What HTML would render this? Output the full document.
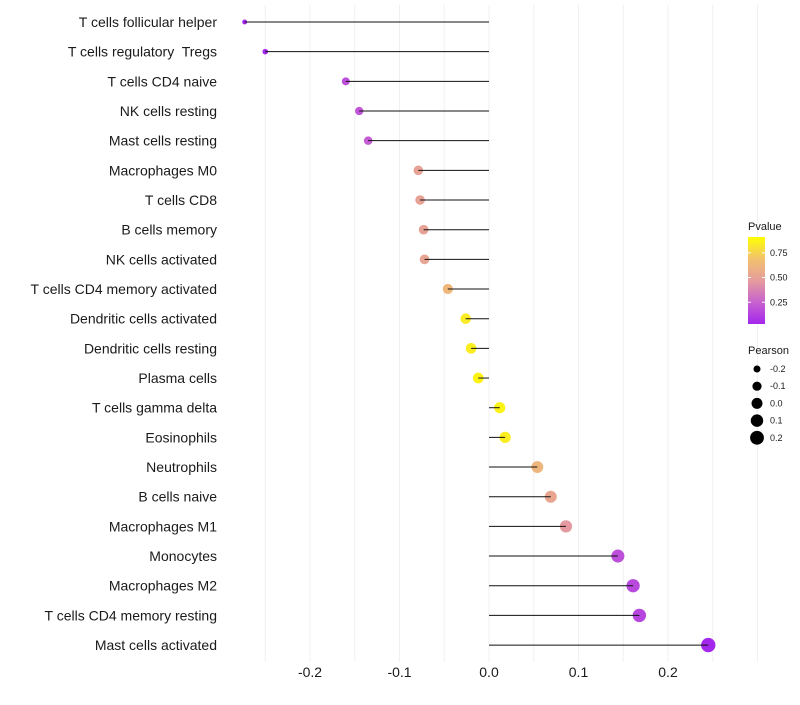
<!DOCTYPE html>
<html><head><meta charset="utf-8"><style>
body{margin:0;background:#fff;font-family:"Liberation Sans",sans-serif}
svg text{font-family:"Liberation Sans",sans-serif;white-space:pre}
</style></head><body>
<svg id="c" width="800" height="700"></svg>
<script>
const categories=["T cells follicular helper","T cells regulatory  Tregs","T cells CD4 naive","NK cells resting","Mast cells resting","Macrophages M0","T cells CD8","B cells memory","NK cells activated","T cells CD4 memory activated","Dendritic cells activated","Dendritic cells resting","Plasma cells","T cells gamma delta","Eosinophils","Neutrophils","B cells naive","Macrophages M1","Monocytes","Macrophages M2","T cells CD4 memory resting","Mast cells activated"];
const pearson=[-0.273,-0.250,-0.160,-0.145,-0.135,-0.079,-0.077,-0.073,-0.072,-0.046,-0.026,-0.020,-0.012,0.012,0.018,0.054,0.069,0.086,0.144,0.161,0.168,0.245];
const pvalue=[0.02,0.03,0.2,0.22,0.25,0.55,0.55,0.55,0.57,0.7,0.92,0.93,0.95,0.95,0.93,0.68,0.58,0.5,0.2,0.17,0.16,0.03];
const xTicks=[-0.2,-0.1,0.0,0.1,0.2];
const xTickLabels=["-0.2","-0.1","0.0","0.1","0.2"];
const pTicks=[0.25,0.5,0.75];
const sizeLegend=[-0.2,-0.1,0.0,0.1,0.2];

const NS="http://www.w3.org/2000/svg";
const svg=document.getElementById('c');
function x(v){return 489+v*895;}
function y(i){return 22+i*29.67;}
function r(v){return Math.sqrt(Math.max(1,30+88*v));}
function lerp(a,b,t){return a.map((c,k)=>Math.round(c+(b[k]-c)*t));}
const stops=[[160,32,240],[196,92,212],[228,154,160],[242,192,112],[255,255,0]];
function col(p){
  const t=Math.max(0,Math.min(1,p))*4;
  const i=Math.min(3,Math.floor(t));
  const c=lerp(stops[i],stops[i+1],t-i);
  return `rgb(${c[0]},${c[1]},${c[2]})`;
}
function mk(tag,attrs,parent){const e=document.createElementNS(NS,tag);for(const k in attrs)e.setAttribute(k,attrs[k]);(parent||svg).appendChild(e);return e;}

for(let g=-0.25;g<=0.3001;g+=0.05){
  const l=mk('line',{x1:x(g),x2:x(g),y1:5,y2:662,stroke:'#f0f0f0','stroke-width':1});
  
  
}
xTicks.forEach((t,i)=>{
  const tx=mk('text',{x:x(t),y:677,'font-size':14,'text-anchor':'middle',fill:'#1a1a1a'});
  tx.textContent=xTickLabels[i];
  
  
});
categories.forEach((c,i)=>{
  const tx=mk('text',{x:217,y:y(i)+5,'font-size':14,'text-anchor':'end',fill:'#1a1a1a'});
  tx.textContent=c;
  
  
  const p=mk('circle',{cx:x(pearson[i]),cy:y(i),r:r(pearson[i]),fill:col(pvalue[i])});
  
  
  const l=mk('line',{x1:x(0),x2:x(pearson[i]),y1:y(i),y2:y(i),stroke:'#111','stroke-width':1});
  
  
});
const lt=mk('text',{x:748,y:230,'font-size':11,fill:'#1a1a1a'});lt.textContent='Pvalue';


const defs=mk('defs',{});
const gr=mk('linearGradient',{id:'pg',x1:0,y1:1,x2:0,y2:0},defs);
[0,0.25,0.5,0.75,1].forEach(s=>{mk('stop',{offset:s,'stop-color':col(0.03+s*0.97)},gr);});
const bar=mk('rect',{x:748,y:237,width:17,height:87,fill:'url(#pg)'});


function py(p){return 324-(p-0.03)/0.88*87;}
pTicks.forEach(p=>{
  mk('line',{x1:748,x2:751,y1:py(p),y2:py(p),stroke:'#fff'});
  mk('line',{x1:762,x2:765,y1:py(p),y2:py(p),stroke:'#fff'});
  const t=mk('text',{x:770,y:py(p)+3,'font-size':9,fill:'#1a1a1a'});t.textContent=p.toFixed(2);
  
  
});
const st=mk('text',{x:748,y:354,'font-size':11,fill:'#1a1a1a'});st.textContent='Pearson';


sizeLegend.forEach((v,i)=>{
  const cy=369+i*17.2;
  const c=mk('circle',{cx:757,cy:cy,r:r(v),fill:'#000'});
  
  
  const t=mk('text',{x:770,y:cy+3,'font-size':9,fill:'#1a1a1a'});t.textContent=v.toFixed(1);
  
  
});
</script>
</body></html>
